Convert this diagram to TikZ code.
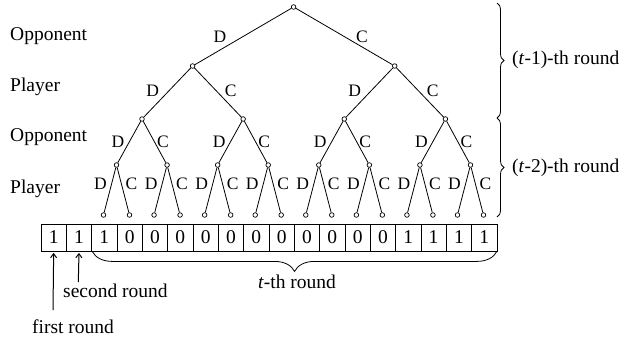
\documentclass[tikz,border=0pt]{standalone}
\usepackage{fontspec}
\setmainfont{Liberation Serif}
\usetikzlibrary{decorations.pathreplacing,arrows.meta}
\begin{document}
\begin{tikzpicture}[x=1pt,y=-1pt,
  vtx/.style={circle,draw,fill=white,inner sep=0pt,minimum size=4.6pt,line width=0.7pt},
  edge/.style={line width=0.8pt},
  elab/.style={font=\fontsize{17.5}{18}\selectfont,inner sep=0pt},
  lab/.style={font=\fontsize{19.5}{20}\selectfont,inner sep=0pt},
  cell/.style={draw,line width=0.8pt,minimum width=25.33pt,minimum height=27pt,inner sep=0pt,font=\fontsize{19.5}{20}\selectfont},
  arr/.style={line width=1pt,-{Straight Barb[length=4pt,width=6pt]}},
  brc/.style={decorate,line width=0.8pt},
]
\useasboundingbox (0,0) rectangle (621,340);

% tree nodes
\node[vtx] (r) at (293.6,7) {};
\node[vtx] (a0) at (192.6,66) {};
\node[vtx] (a1) at (394.7,66) {};
\foreach \i in {0,...,3} \node[vtx] (b\i) at ({142+101.14*\i},119) {};
\foreach \i in {0,...,7} \node[vtx] (c\i) at ({116.5+50.57*\i},165) {};
\foreach \i in {0,...,7} {
  \pgfmathtruncatemacro{\la}{2*\i}
  \pgfmathtruncatemacro{\lb}{2*\i+1}
  \node[vtx] (l\la) at ({116.5+50.57*\i-13},215) {};
  \node[vtx] (l\lb) at ({116.5+50.57*\i+13},215) {};
}

% edges
\draw[edge] (r) -- (a0);
\draw[edge] (r) -- (a1);
\foreach \p/\q in {a0/b0,a0/b1,a1/b2,a1/b3} \draw[edge] (\p) -- (\q);
\foreach \i in {0,...,3} {
  \pgfmathtruncatemacro{\ca}{2*\i}
  \pgfmathtruncatemacro{\cb}{2*\i+1}
  \draw[edge] (b\i) -- (c\ca);
  \draw[edge] (b\i) -- (c\cb);
}
\foreach \i in {0,...,7} {
  \pgfmathtruncatemacro{\la}{2*\i}
  \pgfmathtruncatemacro{\lb}{2*\i+1}
  \draw[edge] (c\i) -- (l\la);
  \draw[edge] (c\i) -- (l\lb);
}

% edge labels
\node[elab] (e1d) at (220,37) {D};
\node[elab] (e1c) at (362,37) {C};
\foreach \i/\x in {0/192.6,1/394.7} {
  \node[elab] (e2d\i) at ({\x-40},91) {D};
  \node[elab] (e2c\i) at ({\x+38},91) {C};
}
\foreach \i in {0,...,3} {
  \node[elab] (e3d\i) at ({142+101.14*\i-24},142) {D};
  \node[elab] (e3c\i) at ({142+101.14*\i+21},142) {C};
}
\foreach \i in {0,...,7} {
  \node[elab] (e4d\i) at ({116.5+50.57*\i-16},184) {D};
  \node[elab] (e4c\i) at ({116.5+50.57*\i+15},184) {C};
}

% left labels
\node[lab,anchor=base west] (opp1) at (10,40) {Opponent};
\node[lab,anchor=base west] (pl1) at (10,91) {Player};
\node[lab,anchor=base west] (opp2) at (10,141) {Opponent};
\node[lab,anchor=base west] (pl2) at (10,193) {Player};

% cells
\foreach \k/\d in {0/1,1/1,2/1,3/0,4/0,5/0,6/0,7/0,8/0,9/0,10/0,11/0,12/0,13/0,14/1,15/1,16/1,17/1}
  \node[cell] (k\k) at ({41+25.33*\k+12.665},237.5) {\d};

% arrows
\coordinate (f0) at (53,310);
\coordinate (s0) at (78.3,282);
\draw[arr] (f0) -- ([yshift=-1.5pt]k0.south);
\draw[arr] (s0) -- ([yshift=-1.5pt]k1.south);
\node[lab,anchor=base west] (sr) at (63,297) {second round};
\node[lab,anchor=base west] (fr) at (32,333) {first round};

% bottom brace
\draw[brc,decoration={brace,amplitude=20pt}] ([xshift=-0.5pt]k17.south east) -- ([xshift=1pt]k2.south west);
\node[lab,anchor=base] (tr) at (297,288) {\textit{t}-th round};

% right braces
\coordinate (ra) at (497,3);
\coordinate (rb) at (497,118);
\coordinate (rc) at (497,217);
\draw[brc,decoration={brace,amplitude=7pt}] (ra) -- (rb);
\draw[brc,decoration={brace,amplitude=7pt}] (rb) -- (rc);
\node[lab,anchor=west] (t1) at (512,60) {(\textit{t}-1)-th round};
\node[lab,anchor=west] (t2) at (512,168) {(\textit{t}-2)-th round};
\end{tikzpicture}
\end{document}
